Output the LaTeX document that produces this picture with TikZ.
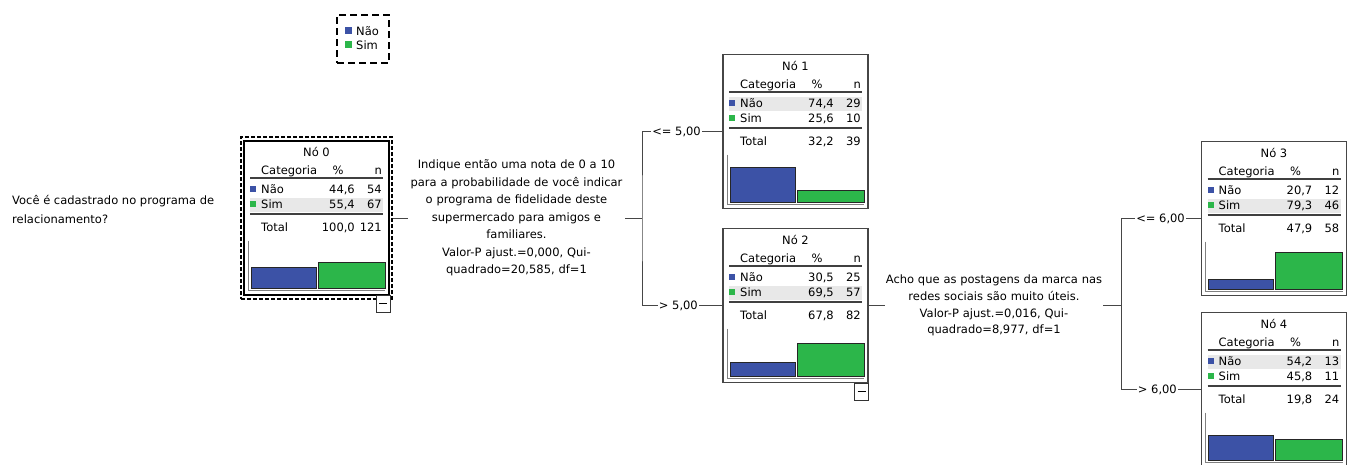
\documentclass[tikz,border=0pt]{standalone}
\usepackage{fontspec}
\setmainfont{DejaVu Sans}
\usetikzlibrary{calc}
\definecolor{nblue}{RGB}{60,82,166}
\definecolor{ngreen}{RGB}{44,182,74}
\definecolor{bandc}{RGB}{232,232,232}
\definecolor{edgec}{RGB}{70,70,70}
\tikzset{
  every node/.style={font=\fontsize{11.5}{14}\selectfont, inner sep=0pt, text=black},
  tbox/.style={draw=edgec, line width=1.2pt, minimum width=145pt, minimum height=154pt, fill=white},
  selbox/.style={draw=black, dash pattern=on 4pt off 2pt, line width=1.1pt, minimum width=151pt, minimum height=162pt},
  legbox/.style={draw=black, dash pattern=on 7pt off 4pt, line width=1.2pt, minimum width=52pt, minimum height=48pt},
  conn/.style={draw=edgec, line width=1pt},
  rulel/.style={draw=black!75, line width=1.6pt},
  axisl/.style={draw=gray, line width=1pt},
  barl/.style={draw=black!85, line width=0.8pt},
  mbox/.style={draw=black!80, line width=1pt, fill=white},
  qtext/.style={align=center, text width=214pt, inner xsep=1.5pt, font=\fontsize{11.5}{17.5}\selectfont},
  blabel/.style={anchor=east, inner xsep=1pt},
}
\newcommand\tbox[5][]{%
  \node[tbox,#1] (#2) at (#3,#4) {};
  \pgfmathsetmacro\tbL{#3-72.5}%
  \pgfmathsetmacro\tbT{#4-77}%
  \def\tbName{#2}%
  \def\tbTitle{#5}%
}
\newcommand\tdata[9]{%
\begin{scope}[shift={(\tbL,\tbT)}]
  \fill[bandc] (6,{27+15*#9}) rectangle (139,{41+15*#9});
  \node[anchor=base] (\tbName-title) at (72.5,16) {\tbTitle};
  \node[anchor=base west] (\tbName-cat) at (17,34) {Categoria};
  \node[anchor=base] (\tbName-pc) at (94,34) {\%};
  \node[anchor=base east] (\tbName-nc) at (138,34) {n};
  \draw[rulel] (6,37.5) -- (139,37.5);
  \fill[nblue] (6,45) rectangle (12,51);
  \node[anchor=base west] (\tbName-r1) at (17,53) {Não};
  \node[anchor=base east] (\tbName-p1) at (111,53) {#1};
  \node[anchor=base east] (\tbName-n1) at (138,53) {#2};
  \fill[ngreen] (6,60) rectangle (12,66);
  \node[anchor=base west] (\tbName-r2) at (17,68) {Sim};
  \node[anchor=base east] (\tbName-p2) at (111,68) {#3};
  \node[anchor=base east] (\tbName-n2) at (138,68) {#4};
  \draw[rulel] (6,73.5) -- (139,73.5);
  \node[anchor=base west] (\tbName-rt) at (17,91) {Total};
  \node[anchor=base east] (\tbName-pt) at (111,91) {#5};
  \node[anchor=base east] (\tbName-nt) at (138,91) {#6};
  \draw[axisl] (4,100) -- (4,150) -- (141,150);
  \filldraw[barl, fill=nblue] (7,{148-0.47*#7}) rectangle (72,148);
  \filldraw[barl, fill=ngreen] (74,{148-0.47*#8}) rectangle (141,148);
\end{scope}}
\newcommand\tminus[1]{%
  \draw[mbox] ($(#1.south east)+(-14,0)$) rectangle ($(#1.south east)+(0,17)$);
  \draw[black, line width=1pt] ($(#1.south east)+(-11,8)$) -- ($(#1.south east)+(-3,8)$);
}
\begin{document}
\begin{tikzpicture}[x=1pt,y=-1pt]
\useasboundingbox (0,0) rectangle (1349,464);
\clip (0,0) rectangle (1349,464);

% legend
\node[legbox] (leg) at (363,39) {};
\fill[nblue] (345,27) rectangle (352,34);
\node[anchor=base west] (legn) at (356,35) {Não};
\fill[ngreen] (345,41) rectangle (352,48);
\node[anchor=base west] (legs) at (356,49) {Sim};

% root question
\node[anchor=west, align=left, font=\fontsize{11.5}{19}\selectfont] (q0) at (12,209)
  {Você é cadastrado no programa de\\relacionamento?};

% node 0
\node[selbox] (n0sel) at (316.5,218) {};
\tbox[draw=black, line width=2pt]{n0}{316.5}{217.5}{Nó 0}
\tdata{44,6}{54}{55,4}{67}{100,0}{121}{44.6}{55.4}{2}
\tminus{n0}

% node 1
\tbox{n1}{795.5}{131.5}{Nó 1}
\tdata{74,4}{29}{25,6}{10}{32,2}{39}{74.4}{25.6}{1}

% node 2
\tbox{n2}{795.5}{305.5}{Nó 2}
\tdata{30,5}{25}{69,5}{57}{67,8}{82}{30.5}{69.5}{2}
\tminus{n2}

% node 3
\tbox{n3}{1274}{218.5}{Nó 3}
\tdata{20,7}{12}{79,3}{46}{47,9}{58}{20.7}{79.3}{2}

% node 4
\tbox{n4}{1274}{389.5}{Nó 4}
\tdata{54,2}{13}{45,8}{11}{19,8}{24}{54.2}{45.8}{1}

% split questions
\node[qtext] (q1) at (516.5,218) {Indique então uma nota de 0 a 10\\para a probabilidade de você indicar\\o programa de fidelidade deste\\supermercado para amigos e\\familiares.\\Valor-P ajust.=0,000, Qui-\\quadrado=20,585, df=1};
\node[qtext, text width=218pt, inner xsep=0pt, font=\fontsize{11.5}{16.8}\selectfont] (q2) at (994,305.5) {Acho que as postagens da marca nas\\redes sociais são muito úteis.\\Valor-P ajust.=0,016, Qui-\\quadrado=8,977, df=1};

% branch labels
\node[blabel] (l1) at (702,131.5) {<= 5,00};
\node[blabel] (l2) at (699,305.5) {> 5,00};
\node[blabel] (l3) at (1186,218.5) {<= 6,00};
\node[blabel] (l4) at (1178,389.5) {> 6,00};

\coordinate (b1) at (642,218);
\coordinate (b2) at (1121,305.5);

% connectors
\draw[conn] (n0sel.east) -- (q1.west);
\draw[conn] (q1.east) -- (b1);
\draw[conn] (l1.west) -| (b1) |- (l2.west);
\draw[conn] (l1.east) -- (n1.west);
\draw[conn] (l2.east) -- (n2.west);
\draw[conn] (n2.east) -- (q2.west);
\draw[conn] (q2.east) -- (b2);
\draw[conn] (l3.west) -| (b2) |- (l4.west);
\draw[conn] (l3.east) -- (n3.west);
\draw[conn] (l4.east) -- (n4.west);
\end{tikzpicture}
\end{document}
